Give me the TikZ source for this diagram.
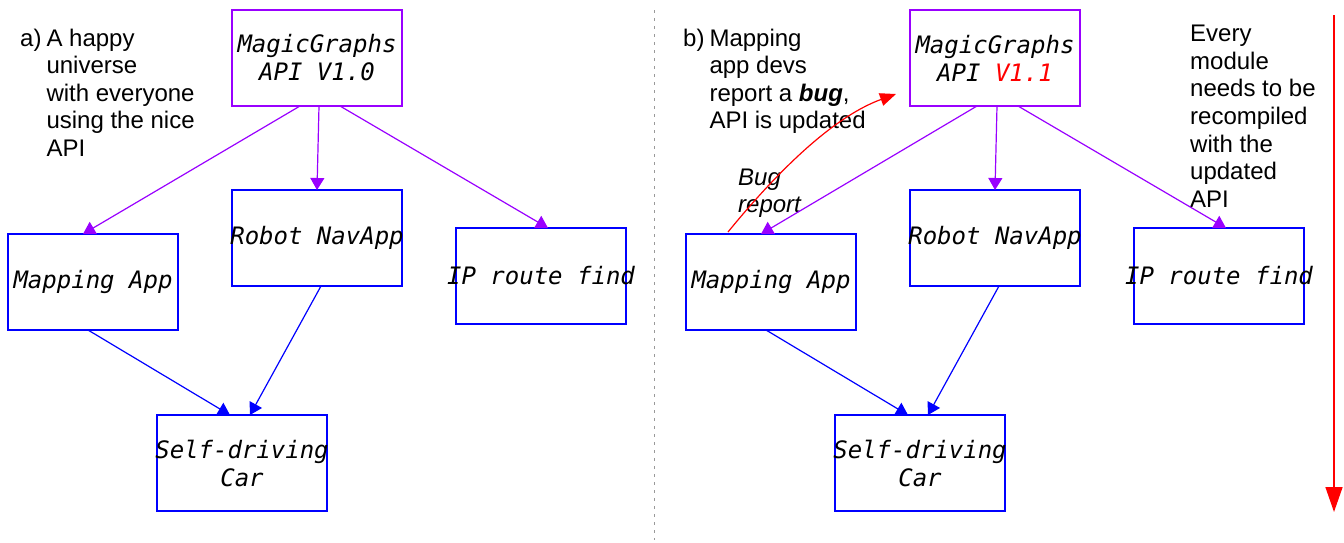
\documentclass[tikz,border=0pt]{standalone}
\usepackage{fontspec}
\setmainfont{Liberation Sans}
\setmonofont{DejaVu Sans Mono}
\usetikzlibrary{positioning,arrows.meta}

\definecolor{apipurple}{RGB}{153,0,255}
\definecolor{appblue}{RGB}{0,0,255}
\newcommand{\boxline}[1]{\makebox[0pt]{#1}}

\tikzset{
    module/.style={draw=appblue, line width=1.1pt, minimum width=170pt, minimum height=96pt,
        inner sep=0pt, outer sep=0pt, align=center, font=\fontsize{24}{28}\selectfont\ttfamily\itshape},
    apibox/.style={module, draw=apipurple},
    uses/.style={draw=apipurple, line width=1.2pt, -{Triangle[width=14pt,length=12pt]}},
    feeds/.style={uses, draw=appblue},
    note/.style={inner sep=0pt, anchor=base west, font=\fontsize{24}{27.6}\selectfont},
}

\begin{document}
\begin{tikzpicture}[x=1pt, y=-1pt]
    \useasboundingbox (0,0) rectangle (1344,542);

    % a) the nice API
    \node [apibox] (api) at (317,58) {\boxline{MagicGraphs}\\\boxline{API V1.0}};
    \node [module, below=84pt of api] (nav) {\boxline{Robot NavApp}};
    \node [module, left=54pt of nav, yshift=-44pt] (map) {\boxline{Mapping App}};
    \node [module, right=54pt of nav, yshift=-38pt] (ip) {\boxline{IP route find}};
    \node [module, below=129pt of nav, xshift=-75pt] (car) {\boxline{Self-driving}\\\boxline{Car}};

    \node [note] (notea) at (20,46) {\begin{tabular}[t]{@{}l@{\hspace{5pt}}l@{}}
        a) & A happy\\ & universe\\ & with everyone\\ & using the nice\\ & API\end{tabular}};

    \draw [uses] ([xshift=-17pt]api.south) -- ([xshift=-10pt]map.north);
    \draw [uses] ([xshift=2pt]api.south) -- (nav.north);
    \draw [uses] ([xshift=23pt]api.south) -- ([xshift=7pt]ip.north);
    \draw [feeds] ([xshift=-5pt]map.south) -- ([xshift=-12pt]car.north);
    \draw [feeds] ([xshift=4pt]nav.south) -- ([xshift=8pt]car.north);

    % divider
    \coordinate (divtop) at (654,10);
    \coordinate (divbot) at (654,540);
    \draw [gray!80, line width=1pt, dash pattern=on 3pt off 5pt] (divtop) -- (divbot);

    % b) updated API
    \node [apibox, right=508pt of api] (apib) {\boxline{MagicGraphs}\\\boxline{API \textcolor{red}{V1.1}}};
    \node [module, below=84pt of apib] (navb) {\boxline{Robot NavApp}};
    \node [module, left=54pt of navb, yshift=-44pt] (mapb) {\boxline{Mapping App}};
    \node [module, right=54pt of navb, yshift=-38pt] (ipb) {\boxline{IP route find}};
    \node [module, below=129pt of navb, xshift=-75pt] (carb) {\boxline{Self-driving}\\\boxline{Car}};

    \node [note] (noteb) at (683,46) {\begin{tabular}[t]{@{}l@{\hspace{5pt}}l@{}}
        b) & Mapping\\ & app devs\\ & report a \textbf{\textit{bug}},\\ & API is updated\end{tabular}};
    \node [note, font=\fontsize{24}{27.6}\selectfont\itshape] (bugnote) at (738,185)
        {\begin{tabular}[t]{@{}l@{}}Bug\\report\end{tabular}};
    \node [note] (notec) at (1190,41.7) {\begin{tabular}[t]{@{}l@{}}
        Every\\module\\needs to be\\recompiled\\with the\\updated\\API\end{tabular}};

    \draw [uses] ([xshift=-18pt]apib.south) -- ([xshift=-10pt]mapb.north);
    \draw [uses] ([xshift=2pt]apib.south) -- (navb.north);
    \draw [uses] ([xshift=23pt]apib.south) -- ([xshift=7pt]ipb.north);
    \draw [feeds] ([xshift=-5pt]mapb.south) -- ([xshift=-12pt]carb.north);
    \draw [feeds] ([xshift=4pt]navb.south) -- ([xshift=8pt]carb.north);

    \coordinate (bugfrom) at ([xshift=-43pt, yshift=2pt]mapb.north);
    \coordinate (bugto) at ([xshift=-14pt, yshift=12pt]apib.south west);
    \draw [red, line width=1.2pt, -{Triangle[width=13pt,length=16pt]}]
        (bugfrom) .. controls +(44,-54) and +(-66,24) .. (bugto);

    \coordinate (redtop) at (1334,15);
    \coordinate (redbot) at (1334,512);
    \draw [red, line width=1.5pt, -{Triangle[width=17pt,length=25pt]}] (redtop) -- (redbot);
\end{tikzpicture}
\end{document}
